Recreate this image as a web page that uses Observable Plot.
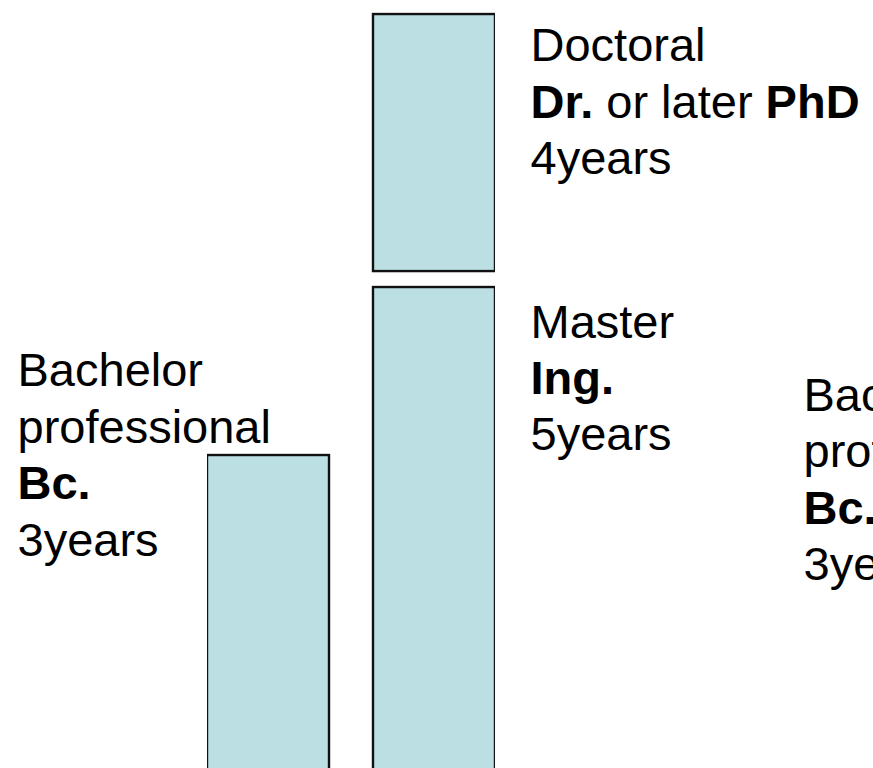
<!DOCTYPE html>
<html>
<head>
<meta charset="utf-8">
<script src="https://cdn.jsdelivr.net/npm/d3@7"></script>
<script src="https://cdn.jsdelivr.net/npm/@observablehq/plot@0.6"></script>
<style>
  html, body { margin: 0; padding: 0; background: #ffffff; }
  #chart { width: 873px; height: 768px; overflow: hidden; }
  svg text { font-family: "Liberation Sans", Arial, Helvetica, sans-serif; }
</style>
</head>
<body>
<div id="chart"></div>
<script>
// ---- Data ----
const columns = ["A", "B"];
const stages = ["Bachelor professional", "Master", "Doctoral"];
const stageColumn = ["A", "B", "B"];
const stageStart = [-1, -1, 5.19];     // bottom of each block (diagram levels; the first two run off the bottom)
const stageEnd = [3, 5, 8.25];         // top of each block (diagram levels)

const labelText = [
  "Bachelor\nprofessional\n**Bc.**\n3years",
  "Master\n**Ing.**\n5years",
  "Doctoral\n**Dr.** or later **PhD**\n4years",
  "Bachelor\nprofessional\n**Bc.**\n3years"
];
const labelColumn = ["A", "B", "B", "B"];
const labelLevel = [4.30, 4.88, 8.17, 4.01];
const labelShift = [-251, 96, 96, 369];

// ---- Tables built from the arrays ----
const blocks = stages.map((s, i) => ({stage: s, col: stageColumn[i], lo: stageStart[i], hi: stageEnd[i]}));
const labels = labelText.map((t, i) => ({text: t, col: labelColumn[i], level: labelLevel[i], shift: labelShift[i]}));

const textMarks = labels.map(d => Plot.text([d], {
  x: "col", y: "level", text: "text",
  dx: d.shift, textAnchor: "start", lineAnchor: "top", lineHeight: 1.2,
  fontSize: 47, fill: "#000"
}));

const chart = Plot.plot({
  width: 873,
  height: 768,
  marginLeft: 207,
  marginRight: 378,
  marginTop: 0,
  marginBottom: 0,
  style: {background: "#ffffff", fontFamily: "'Liberation Sans', Arial, sans-serif", overflow: "visible"},
  x: {type: "band", domain: columns, paddingInner: 0.265, paddingOuter: 0, round: false, axis: null},
  y: {domain: [-0.726, 8.417], axis: null},
  marks: [
    Plot.barY(blocks, {x: "col", y1: "lo", y2: "hi", fill: "#BBDFE2", stroke: "#111111", strokeWidth: 2.4, clip: true}),
    ...textMarks
  ]
});

// Render bold segments marked with **...**
chart.querySelectorAll("text, tspan").forEach(node => {
  if (node.children.length) return;
  const s = node.textContent;
  if (!s.includes("**")) return;
  node.textContent = "";
  s.split("**").forEach((part, j) => {
    if (!part) return;
    const t = document.createElementNS("http://www.w3.org/2000/svg", "tspan");
    if (j % 2 === 1) t.setAttribute("font-weight", "bold");
    t.textContent = part;
    node.appendChild(t);
  });
});

document.getElementById("chart").appendChild(chart);
</script>
</body>
</html>
